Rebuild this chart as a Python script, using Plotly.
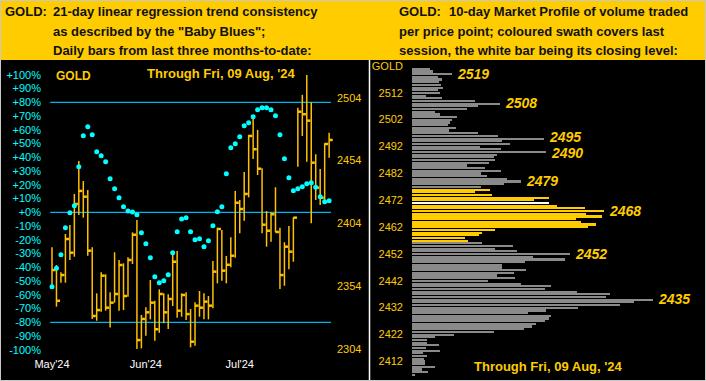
import plotly.graph_objects as go

# ---------------- Left panel data (daily bars, last three months) ----------------
bar_index = list(range(63))
highs = [2384.8, 2370.7, 2364.9, 2395.4, 2402.6, 2427.3, 2453.6, 2437.6, 2430.5, 2384.8,
         2348.1, 2364.9, 2363.3, 2348.9, 2380.8, 2374.7, 2372.0, 2376.8, 2396.7, 2406.5,
         2330.9, 2337.0, 2358.7, 2342.2, 2351.3, 2348.1, 2347.3, 2380.5, 2381.8, 2348.1,
         2348.9, 2335.6, 2341.0, 2350.0, 2348.1, 2346.0, 2373.9, 2400.4, 2398.6, 2377.9,
         2392.8, 2429.7, 2422.5, 2444.8, 2474.3, 2488.9, 2478.3, 2447.7, 2413.7, 2412.7,
         2432.6, 2400.4, 2388.8, 2401.8, 2408.7, 2496.0, 2506.2, 2522.1, 2500.3, 2458.9,
         2447.2, 2467.7, 2476.1]
lows = [2352.1, 2337.5, 2356.6, 2356.6, 2374.7, 2377.3, 2410.5, 2408.4, 2378.1, 2327.7,
        2326.3, 2333.5, 2334.3, 2321.0, 2340.7, 2334.3, 2334.8, 2345.4, 2371.5, 2303.8,
        2304.3, 2314.4, 2327.4, 2310.4, 2316.7, 2324.2, 2319.7, 2338.0, 2328.7, 2329.5,
        2326.9, 2305.1, 2306.4, 2329.5, 2327.4, 2327.4, 2336.2, 2356.1, 2358.2, 2356.1,
        2368.9, 2376.5, 2396.0, 2406.0, 2424.6, 2455.2, 2442.4, 2396.0, 2385.3, 2389.3,
        2396.7, 2351.6, 2354.2, 2367.3, 2373.3, 2449.0, 2473.5, 2453.0, 2403.9, 2422.5,
        2418.5, 2419.9, 2456.2]
closes = [2366.7, 2342.2, 2362.7, 2391.4, 2380.5, 2419.3, 2429.7, 2425.1, 2382.1, 2330.1,
          2334.8, 2362.2, 2336.7, 2340.7, 2347.6, 2370.7, 2346.0, 2374.7, 2394.8, 2310.9,
          2327.7, 2333.0, 2340.7, 2319.5, 2347.6, 2333.0, 2343.6, 2373.3, 2334.3, 2346.8,
          2331.6, 2309.6, 2338.3, 2336.7, 2341.5, 2338.3, 2365.4, 2399.4, 2366.2, 2370.9,
          2378.1, 2420.3, 2415.3, 2427.3, 2473.5, 2462.9, 2447.4, 2402.8, 2398.0, 2411.1,
          2397.0, 2362.7, 2385.3, 2381.3, 2408.4, 2492.8, 2490.8, 2485.7, 2452.2, 2432.3,
          2424.3, 2467.1, 2470.3]
baby_blues = [-54.1, -40.7, -30.8, -11.2, -0.3, 4.8, 33.2, 55.7, 62.3, 56.4,
              44.1, 41.2, 36.8, 24.4, 17.2, 10.6, 4.1, 0.9, 0.2, -1.7,
              -14.8, -22.8, -33.0, -46.8, -51.2, -49.7, -45.4, -29.4, -14.1, -4.9,
              -3.9, -14.1, -19.9, -19.2, -25.0, -20.7, -9.7, 0.4, 4.1, 28.1,
              47.0, 49.9, 55.0, 63.0, 65.2, 69.5, 74.6, 76.1, 76.1, 74.6,
              70.3, 56.4, 39.0, 25.2, 15.7, 17.2, 18.6, 20.8, 21.5, 18.2,
              11.3, 7.7, 8.4]
month_tick_idx = [0, 21, 42]
month_tick_text = ["May'24", "Jun'24", "Jul'24"]
pct_ticks = list(range(-100, 101, 10))
pct_tick_text = [f"{v:+d}%" for v in pct_ticks]
price_ticks = [2304, 2354, 2404, 2454, 2504]
ref_levels = [80, 0, -80]

# ---------------- Right panel data (10-day market profile) ----------------
profile_prices = list(range(2521, 2406, -1))
profile_volume = [18, 21, 40, 26, 30, 27, 29, 31, 26, 28,
                  14, 30, 63, 88, 66, 55, 23, 28, 45, 40,
                  38, 36, 44, 37, 66, 86, 132, 90, 98, 68,
                  89, 134, 85, 82, 83, 77, 55, 73, 89, 69,
                  75, 95, 109, 92, 69, 78, 63, 80, 137, 122,
                  137, 145, 173, 192, 174, 190, 164, 169, 184, 176,
                  83, 70, 67, 53, 56, 70, 101, 83, 105, 158,
                  121, 153, 113, 90, 90, 114, 102, 85, 103, 76,
                  109, 139, 133, 165, 198, 194, 241, 222, 208, 166,
                  134, 116, 139, 137, 133, 124, 120, 112, 82, 42,
                  23, 15, 15, 27, 14, 28, 11, 15, 12, 13,
                  13, 23, 10, 16, 3]
session_low, session_high = 2457, 2476
close_level = 2471
labeled_levels = [2519, 2508, 2495, 2490, 2479, 2468, 2452, 2435]
label_nudge = {2495: 1.5, 2490: -1.5}
profile_ticks = [2412, 2422, 2432, 2442, 2452, 2462, 2472, 2482, 2492, 2502, 2512, 2522]
profile_tick_text = [str(v) for v in profile_ticks[:-1]] + ["GOLD"]

# ---------------- styling ----------------
W, H = 706, 381
BAR_GOLD = "#FFC000"
TXT_GOLD = "#FFCC00"
HEADER_YELLOW = "#FFCC00"
CYAN = "#00FFFF"
LINE_BLUE = "#00B4F0"
FONT = "Liberation Sans, Arial, sans-serif"


def px_x(p):
    return p / W


def px_y(p):
    return (H - p) / H


fig = go.Figure()

# high-low verticals and close ticks built from the data arrays
seg_x, seg_y = [], []
for i, h, l in zip(bar_index, highs, lows):
    seg_x += [i, i, None]
    seg_y += [l, h, None]
tick_x, tick_y = [], []
for i, c in zip(bar_index, closes):
    tick_x += [i, i + 0.8, None]
    tick_y += [c, c, None]

fig.add_trace(go.Scatter(x=seg_x, y=seg_y, mode="lines", line=dict(color=BAR_GOLD, width=1.5),
                         xaxis="x", yaxis="y", hoverinfo="skip", showlegend=False))
fig.add_trace(go.Scatter(x=tick_x, y=tick_y, mode="lines", line=dict(color=BAR_GOLD, width=2.5),
                         xaxis="x", yaxis="y", hoverinfo="skip", showlegend=False))
fig.add_trace(go.Scatter(x=bar_index, y=baby_blues, mode="markers",
                         marker=dict(color=CYAN, size=5, line=dict(width=0)),
                         xaxis="x", yaxis="y2", showlegend=False))

# market profile
colors = []
for p in profile_prices:
    if p == close_level:
        colors.append("#FFFFFF")
    elif session_low <= p <= session_high:
        colors.append(HEADER_YELLOW)
    else:
        colors.append("#8A8A8A")
fig.add_trace(go.Bar(x=profile_volume, y=profile_prices, orientation="h", width=0.62,
                     marker=dict(color=colors, line=dict(width=0)),
                     xaxis="x3", yaxis="y3", showlegend=False))

shapes = []
# header band
shapes.append(dict(type="rect", xref="paper", yref="paper", x0=0, x1=1, y0=px_y(60), y1=1,
                   fillcolor=HEADER_YELLOW, line=dict(width=0), layer="below"))
# reference levels
for lv in ref_levels:
    shapes.append(dict(type="line", xref="x", yref="y2", x0=-0.4, x1=62.4, y0=lv, y1=lv,
                       line=dict(color=LINE_BLUE, width=1.2), layer="below"))
# divider
shapes.append(dict(type="line", xref="paper", yref="paper", x0=px_x(369.5), x1=px_x(369.5),
                   y0=0, y1=px_y(60), line=dict(color="#FFFFFF", width=1.5)))
# outer frame
shapes.append(dict(type="rect", xref="paper", yref="paper", x0=0, x1=1, y0=0, y1=1,
                   line=dict(color="#C8C8C8", width=2), fillcolor="rgba(0,0,0,0)"))

annotations = []


def hdr(text, x, y):
    annotations.append(dict(text=text, xref="paper", yref="paper", x=px_x(x), y=px_y(y),
                            xanchor="left", yanchor="middle", showarrow=False, borderpad=0,
                            font=dict(family=FONT, size=13, color="#111111", weight="bold")))


hdr("GOLD:", 4, 11.7)
hdr("21-day linear regression trend consistency", 52, 11.7)
hdr("as described by the \"Baby Blues\";", 52, 31.5)
hdr("Daily bars from last three months-to-date:", 52, 51)
hdr("GOLD:", 398, 11.7)
hdr("10-day Market Profile of volume traded", 448, 11.7)
hdr("per price point; coloured swath covers last", 398, 31.5)
hdr("session, the white bar being its closing level:", 398, 51)

annotations.append(dict(text="GOLD", xref="paper", yref="paper", x=px_x(55), y=px_y(75.7),
                        xanchor="left", yanchor="middle", showarrow=False, borderpad=0,
                        font=dict(family=FONT, size=12, color=TXT_GOLD, weight="bold")))
annotations.append(dict(text="Through Fri, 09 Aug, '24", xref="paper", yref="paper",
                        x=px_x(146), y=px_y(73.3), xanchor="left", yanchor="middle",
                        showarrow=False, borderpad=0,
                        font=dict(family=FONT, size=13, color=TXT_GOLD, weight="bold")))
annotations.append(dict(text="Through Fri, 09 Aug, '24", xref="paper", yref="paper",
                        x=px_x(473), y=px_y(366.7), xanchor="left", yanchor="middle",
                        showarrow=False, borderpad=0,
                        font=dict(family=FONT, size=13, color=TXT_GOLD, weight="bold")))

vol_by_price = dict(zip(profile_prices, profile_volume))
for lv in labeled_levels:
    annotations.append(dict(text=str(lv), xref="x3", yref="y3", x=vol_by_price[lv], y=lv,
                            xanchor="left", yanchor="middle", xshift=4,
                            yshift=label_nudge.get(lv, 0), showarrow=False,
                            borderpad=0,
                            font=dict(family=FONT, size=14, color=TXT_GOLD, weight="bold",
                                      style="italic")))

axis_common = dict(showgrid=False, zeroline=False, showline=False, automargin=False, ticks="")

fig.update_layout(
    template="none",
    width=W, height=H, autosize=False,
    margin=dict(l=0, r=0, t=0, b=0, pad=0, autoexpand=False),
    paper_bgcolor="#000000", plot_bgcolor="#000000",
    showlegend=False, bargap=0,
    shapes=shapes, annotations=annotations,
    xaxis=dict(domain=[px_x(44), px_x(334)], range=[-1.79, 63.09], anchor="y",
               tickvals=month_tick_idx, ticktext=month_tick_text,
               tickfont=dict(family=FONT, size=11, color="#FFFFFF"),
               ticklabelstandoff=3, **axis_common),
    yaxis=dict(domain=[px_y(353), px_y(62)], range=[2300.6, 2532.4], side="right", anchor="x",
               tickvals=price_ticks,
               tickfont=dict(family=FONT, size=11, color=TXT_GOLD),
               ticklabelstandoff=2, **axis_common),
    yaxis2=dict(overlaying="y", side="left", anchor="x", range=[-102.3, 109.3],
                tickvals=pct_ticks, ticktext=pct_tick_text,
                tickfont=dict(family=FONT, size=11, color=CYAN),
                ticklabelstandoff=2, **axis_common),
    xaxis3=dict(domain=[px_x(412), 1], range=[0, 294], anchor="y3", visible=False,
                automargin=False),
    yaxis3=dict(domain=[0, px_y(60)], range=[2404.63, 2524.18], anchor="x3",
                tickvals=profile_ticks, ticktext=profile_tick_text,
                tickfont=dict(family=FONT, size=11, color=TXT_GOLD),
                ticklabelstandoff=8, **axis_common),
)

fig.write_html("out.html", config={"displayModeBar": False},
               post_script="document.body.style.margin='0';document.body.style.overflow='hidden';")
